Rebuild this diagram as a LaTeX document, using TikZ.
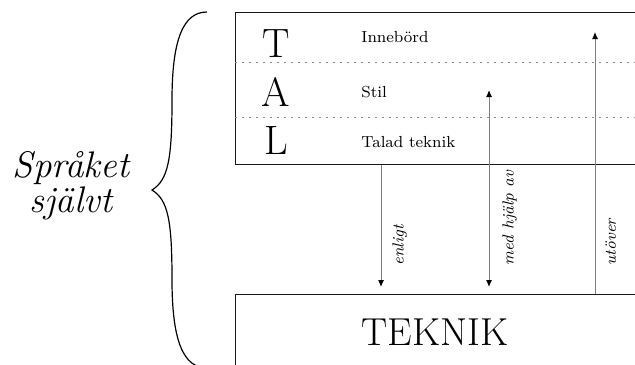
\documentclass[tikz,border=0pt]{standalone}
\usepackage{fontspec}
\usetikzlibrary{positioning,arrows.meta}

\begin{document}
\begin{tikzpicture}[x=0.5pt,y=-0.5pt]
\tikzstyle{box}=[rectangle, draw=black!90, line width=0.7pt, minimum width=205pt, anchor=north west, inner sep=0pt]
\tikzstyle{row}=[draw=black!45, line width=0.5pt, dash pattern=on 1pt off 2.5pt]
\tikzstyle{big}=[font=\fontsize{20.5}{20.5}\selectfont, anchor=base]
\tikzstyle{small}=[font=\fontsize{8}{8}\selectfont, anchor=base west, inner sep=0pt]
\tikzstyle{connect}=[black!50, line width=0.5pt, -{Latex[color=black,length=3.5pt,width=3pt]}]
\tikzstyle{both}=[{Latex[color=black,length=3.5pt,width=3pt]}-{Latex[color=black,length=3.5pt,width=3pt]}]
\tikzstyle{lbl}=[rotate=90, anchor=north west, inner sep=0pt, font=\fontsize{8}{8}\selectfont\itshape]
\useasboundingbox (0,0) rectangle (635,364);
\clip (0,0) rectangle (635,364);
% boxes
\node[box, minimum height=76pt] (tal) at (235,12) {};
\node[box, minimum height=40pt] (tek) at (235,294) {};
\draw[row] (235,62) -- (645,62);
\draw[row] (235,117) -- (645,117);
% TAL
\node[big] (t) at (276,57) {T};
\node[big] (a) at (276,106) {A};
\node[big] (l) at (276,154) {L};
\node[small] (inne) at (361,42) {Innebörd};
\node[small] (stil) at (361,97) {Stil};
\node[small] (talad) at (361,147) {Talad teknik};
\node[font=\fontsize{19.5}{19.5}\selectfont, anchor=base] (teknik) at (435,345) {TEKNIK};
% arrows
\coordinate (e1) at (381,287);
\coordinate (m1) at (489,90);
\coordinate (m2) at (489,287);
\coordinate (u1) at (595,32);
\draw[connect] (e1 |- tal.south) -- (e1);
\draw[connect, both] (m1) -- (m2);
\draw[connect] (u1 |- tek.north) -- (u1);
\node[lbl] (enl) at (392,266) {enligt};
\node[lbl] (med) at (502,266) {med hjälp av};
\node[lbl] (uto) at (605,266) {utöver};
% brace
\draw[line width=0.6pt] (207,12) .. controls (183,12) and (172,40) .. (172,100)
  .. controls (172,160) and (168,180) .. (152,190) .. controls (168,200) and (172,220) .. (172,280)
  .. controls (172,340) and (183,368) .. (207,368);
\node[align=center, font=\fontsize{18.5}{13}\selectfont\itshape] (sprak) at (71,186) {Språket\\självt};
\end{tikzpicture}
\end{document}
